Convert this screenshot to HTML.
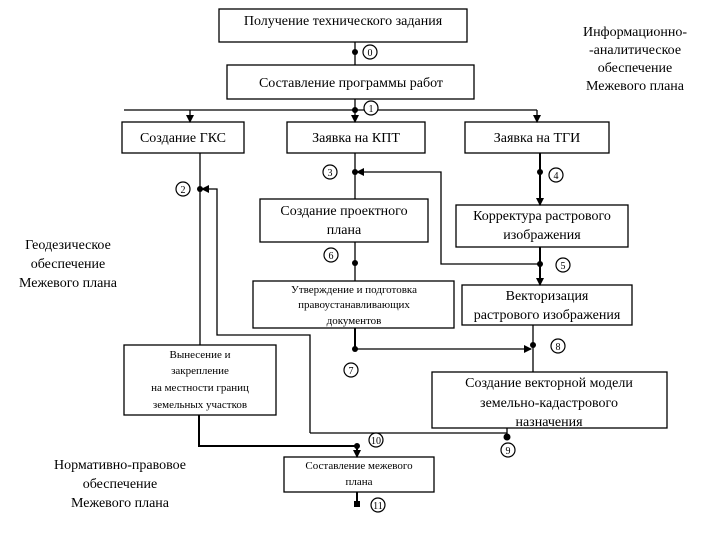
<!DOCTYPE html>
<html><head><meta charset="utf-8"><style>
body{margin:0;background:#fff}
svg{display:block}
text{font-family:"Liberation Serif",serif;fill:#000}
</style></head><body>
<svg width="720" height="540" viewBox="0 0 720 540" xmlns="http://www.w3.org/2000/svg">
<defs><marker id="a" markerWidth="8" markerHeight="8" refX="7" refY="4" orient="auto" markerUnits="userSpaceOnUse"><path d="M0,0 L8,4 L0,8z" fill="#000"/></marker></defs>
<g fill="#fff" stroke="#000" stroke-width="1.3">
<rect x="219" y="9" width="248" height="33"/>
<rect x="227" y="65" width="247" height="34"/>
<rect x="122" y="122" width="122" height="31"/>
<rect x="287" y="122" width="138" height="31"/>
<rect x="465" y="122" width="144" height="31"/>
<rect x="260" y="199" width="168" height="43"/>
<rect x="456" y="205" width="172" height="42"/>
<rect x="253" y="281" width="201" height="47"/>
<rect x="462" y="285" width="170" height="40"/>
<rect x="432" y="372" width="235" height="56"/>
<rect x="124" y="345" width="152" height="70"/>
<rect x="284" y="457" width="150" height="35"/>
</g>
<g stroke="#000" stroke-width="1.3" fill="none">
<line x1="355" y1="42" x2="355" y2="65"/>
<line x1="355" y1="99" x2="355" y2="110"/>
<line x1="124" y1="110" x2="537" y2="110"/>
<line x1="190" y1="110" x2="190" y2="122" marker-end="url(#a)"/>
<line x1="355" y1="110" x2="355" y2="122" marker-end="url(#a)"/>
<line x1="537" y1="110" x2="537" y2="122" marker-end="url(#a)"/>
<line x1="355" y1="153" x2="355" y2="199"/>
<polyline points="540,264 441,264 441,172 357,172" marker-end="url(#a)"/>
<line x1="540" y1="153" x2="540" y2="205" marker-end="url(#a)" stroke-width="2"/>
<line x1="540" y1="247" x2="540" y2="285" marker-end="url(#a)" stroke-width="2"/>
<line x1="355" y1="242" x2="355" y2="281"/>
<line x1="355" y1="328" x2="355" y2="349" stroke-width="2"/>
<line x1="355" y1="349" x2="531" y2="349" marker-end="url(#a)"/>
<line x1="533" y1="325" x2="533" y2="372"/>
<line x1="200" y1="153" x2="200" y2="345"/>
<polyline points="310,433 310,335 217,335 217,189 202,189" marker-end="url(#a)"/>
<line x1="310" y1="433" x2="507" y2="433"/>
<line x1="507" y1="428" x2="507" y2="437"/>
<polyline points="199,415 199,446 357,446" stroke-width="2"/>
<line x1="357" y1="446" x2="357" y2="457" marker-end="url(#a)" stroke-width="2"/>
<line x1="357" y1="492" x2="357" y2="505" stroke-width="2"/>
</g>
<g fill="#000">
<circle cx="355" cy="52" r="3"/><circle cx="355" cy="110" r="3"/>
<circle cx="355" cy="172" r="3"/><circle cx="540" cy="172" r="3"/>
<circle cx="200" cy="189" r="3"/><circle cx="355" cy="263" r="3"/>
<circle cx="540" cy="264" r="3"/><circle cx="355" cy="349" r="3"/>
<circle cx="533" cy="345" r="3"/><circle cx="507" cy="437" r="3.5"/>
<circle cx="357" cy="446" r="3"/><rect x="354" y="501" width="6" height="6"/>
</g>
<g fill="#fff" stroke="#000" stroke-width="1.2">
<circle cx="370" cy="52" r="7"/><circle cx="371" cy="108" r="7"/>
<circle cx="330" cy="172" r="7"/><circle cx="556" cy="175" r="7"/>
<circle cx="183" cy="189" r="7"/><circle cx="331" cy="255" r="7"/>
<circle cx="563" cy="265" r="7"/><circle cx="351" cy="370" r="7"/>
<circle cx="558" cy="346" r="7"/><circle cx="508" cy="450" r="7"/>
<circle cx="376" cy="440" r="7"/><circle cx="378" cy="505" r="7"/>
</g>
<g font-size="10" text-anchor="middle">
<text x="370" y="56">0</text><text x="371" y="112">1</text>
<text x="330" y="176">3</text><text x="556" y="179">4</text>
<text x="183" y="193">2</text><text x="331" y="259">6</text>
<text x="563" y="269">5</text><text x="351" y="374">7</text>
<text x="558" y="350">8</text><text x="508" y="454">9</text>
<text x="376" y="444">10</text><text x="378" y="509">11</text>
</g>
<g font-size="14" text-anchor="middle">
<text x="343" y="25">Получение технического задания</text>
<text x="351" y="87">Составление программы работ</text>
<text x="183" y="142">Создание ГКС</text>
<text x="356" y="142">Заявка на КПТ</text>
<text x="537" y="142">Заявка на ТГИ</text>
<text x="344" y="215">Создание проектного</text>
<text x="344" y="234">плана</text>
<text x="542" y="220">Корректура растрового</text>
<text x="542" y="239">изображения</text>
<text x="547" y="300">Векторизация</text>
<text x="547" y="319">растрового изображения</text>
<text x="549" y="387">Создание векторной модели</text>
<text x="549" y="407">земельно-кадастрового</text>
<text x="549" y="426">назначения</text>
<text x="68" y="249">Геодезическое</text>
<text x="68" y="268">обеспечение</text>
<text x="68" y="287">Межевого плана</text>
<text x="120" y="469">Нормативно-правовое</text>
<text x="120" y="488">обеспечение</text>
<text x="120" y="507">Межевого плана</text>
<text x="635" y="36">Информационно-</text>
<text x="635" y="54">-аналитическое</text>
<text x="635" y="72">обеспечение</text>
<text x="635" y="90">Межевого плана</text>
</g>
<g font-size="11" text-anchor="middle">
<text x="354" y="293">Утверждение и подготовка</text>
<text x="354" y="308">правоустанавливающих</text>
<text x="354" y="324">документов</text>
<text x="200" y="358">Вынесение и</text>
<text x="200" y="374">закрепление</text>
<text x="200" y="391">на местности границ</text>
<text x="200" y="408">земельных участков</text>
<text x="359" y="469">Составление межевого</text>
<text x="359" y="485">плана</text>
</g>
</svg>
</body></html>
